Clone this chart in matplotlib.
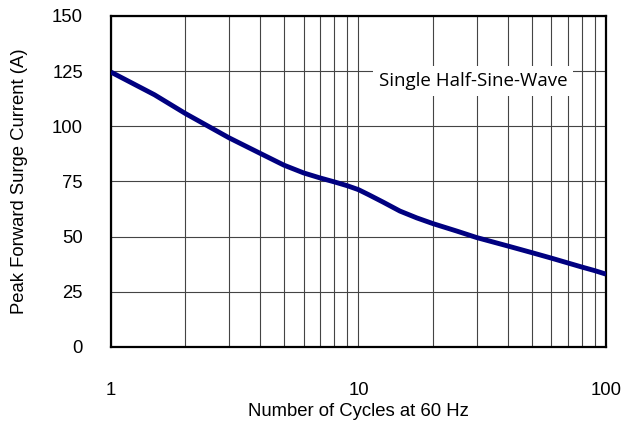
import numpy as np
import matplotlib.pyplot as plt
from matplotlib.ticker import FixedLocator, NullFormatter

# datos
ciclos = [1, 1.5, 2, 3, 4, 5, 6, 7, 8, 9, 10, 11, 12.6, 14.7, 17.2, 20, 25, 30,
          40, 50, 60, 70, 80, 90, 100]
corriente = [124.6, 114.3, 105.8, 94.8, 87.8, 82.4, 78.9, 76.6, 74.8, 73.1, 71.3,
             69.0, 65.6, 61.6, 58.5, 55.9, 52.5, 49.6, 45.8, 42.8, 40.3, 38.1,
             36.2, 34.6, 33.0]
yticks = [0, 25, 50, 75, 100, 125, 150]
xticks = [1, 10, 100]
xlabels = ['1', '10', '100']

plt.rcParams['font.family'] = ['Liberation Sans', 'DejaVu Sans']

fig = plt.figure(figsize=(6.3, 4.23), dpi=100)
ax = fig.add_axes([0.176, 0.1797, 0.786, 0.7825])

ax.plot(ciclos, corriente, color='#000080', lw=3.5, solid_capstyle='butt',
        solid_joinstyle='round', zorder=3)

ax.set_xscale('log')
ax.set_xlim(1, 100)
ax.set_ylim(0, 150)
ax.set_yticks(yticks)
ax.set_xticks(xticks)
ax.set_xticklabels(xlabels)
ax.xaxis.set_minor_locator(FixedLocator([d * k for d in (1, 10) for k in range(2, 10)]))
ax.xaxis.set_minor_formatter(NullFormatter())

ax.grid(True, which='both', axis='x', color='#444444', lw=0.8)
ax.grid(True, which='major', axis='y', color='#444444', lw=0.8)
ax.tick_params(which='both', length=0, labelsize=13.3)
ax.tick_params(axis='x', pad=25)
ax.tick_params(axis='y', pad=20)
for s in ax.spines.values():
    s.set_linewidth(1.6)
    s.set_color('black')

ax.set_xlabel('Number of Cycles at 60 Hz', fontsize=13.3, va='center')
ax.set_ylabel('Peak Forward Surge Current (A)', fontsize=13.3, va='center')
ax.xaxis.set_label_coords(0.5, -0.196)
ax.yaxis.set_label_coords(-0.184, 0.5)

ax.text(29, 120.5, 'Single Half-Sine-Wave', fontsize=13.5, family=['Open Sans', 'DejaVu Sans'],
        ha='center', va='center', zorder=4,
        bbox=dict(facecolor='white', edgecolor='none', pad=4))

fig.savefig('out.png', dpi=100)
